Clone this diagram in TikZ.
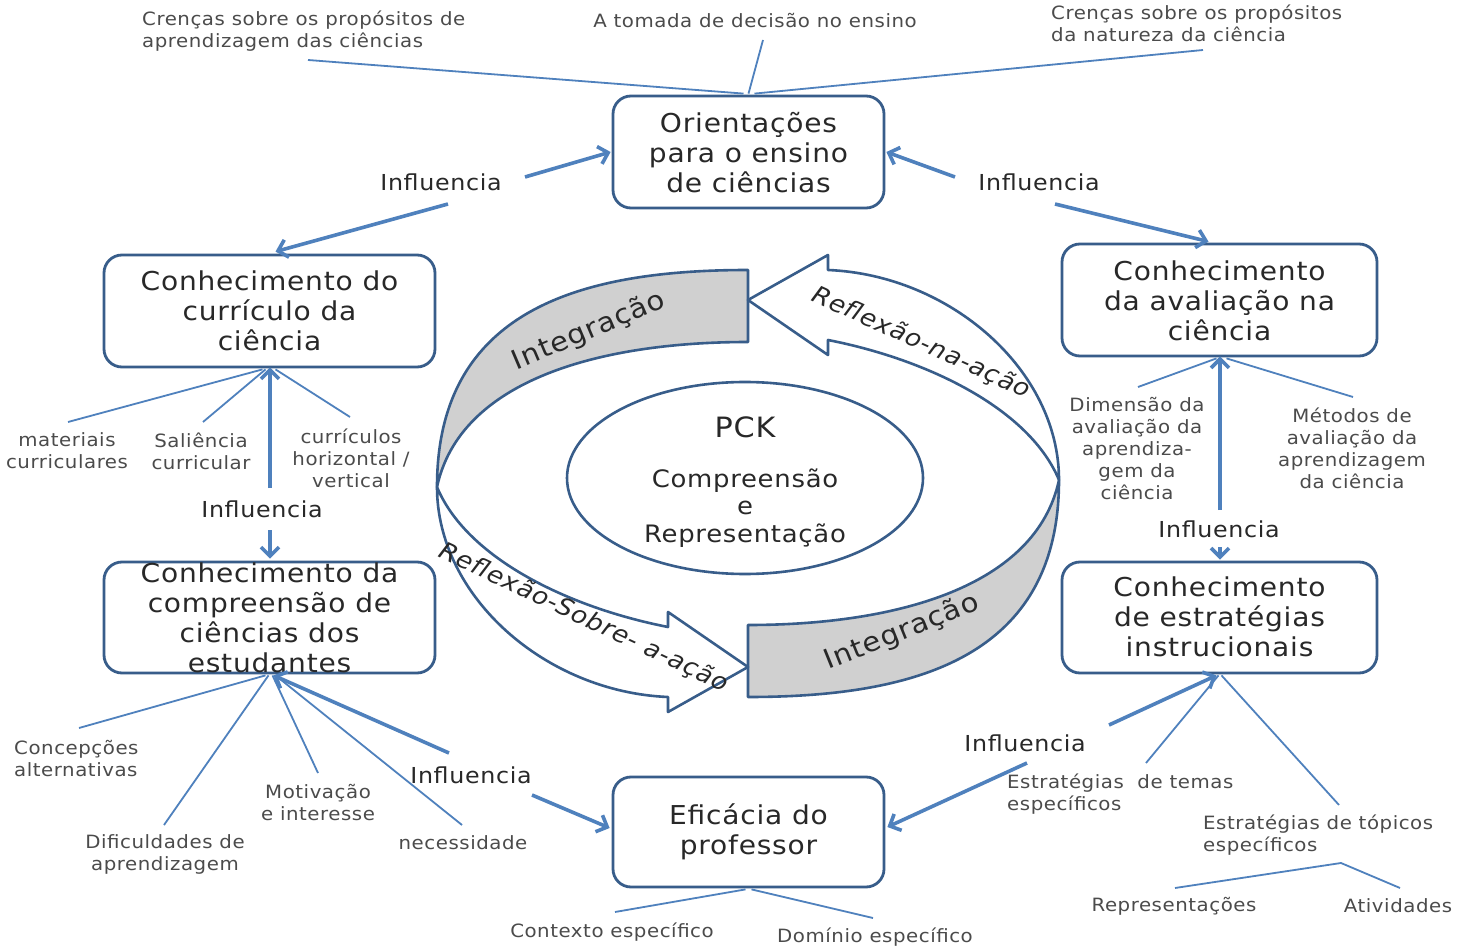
\documentclass[tikz,border=0pt]{standalone}
\usepackage{fontspec}
\setmainfont{DejaVu Sans}[FakeStretch=1.08,LetterSpace=3.0]
\usetikzlibrary{arrows.meta,calc,shapes.geometric}
\definecolor{boxblue}{RGB}{56,93,138}
\definecolor{linkblue}{RGB}{79,129,189}
\definecolor{ringgray}{RGB}{208,208,208}
\definecolor{txtdark}{RGB}{40,40,40}
\definecolor{txtgray}{RGB}{75,75,75}
\begin{document}
\begin{tikzpicture}[x=1pt,y=-1pt,
  box/.style={draw=boxblue,line width=2.8pt,rounded corners=18pt,fill=white,inner sep=0pt},
  boxtext/.style={text=txtdark,font=\fontsize{26}{30}\selectfont,align=center,inner sep=0pt},
  lbl/.style={text=txtgray,font=\fontsize{18.3}{22}\selectfont,align=center,inner sep=0pt},
  inf/.style={text=txtdark,font=\fontsize{22}{26}\selectfont,inner sep=0pt},
  thinlink/.style={draw=linkblue,line width=1.8pt},
  infarrow/.style={draw=linkblue,line width=3.6pt,-{Straight Barb[length=9pt,width=18pt]}},
  ringpart/.style={draw=boxblue,line width=2.6pt,line join=round},
  ringlabel/.style={text=txtdark,font=\fontsize{27}{30}\selectfont,inner sep=0pt},
  reflabel/.style={text=txtdark,font=\itshape\fontsize{24}{28}\selectfont,inner sep=0pt},
]
\fill[white] (0,0) rectangle (1462,949);
\useasboundingbox (0,0) rectangle (1462,949);

% ---------- central ring ----------
\path[ringpart,fill=ringgray] (437,487) .. controls (437,310) and (580,270) .. (748,270) -- (748,342) .. controls (600,342) and (460,380) .. (437,487) -- cycle;
\path[ringpart,fill=white] (1059,480) .. controls (1059,370) and (950,275) .. (828,270) -- (828,255) -- (748,300) -- (828,355) -- (828,340) .. controls (930,360) and (1030,410) .. (1059,480) -- cycle;
\begin{scope}[rotate around={180:(748,483.5)}]
\path[ringpart,fill=ringgray] (437,487) .. controls (437,310) and (580,270) .. (748,270) -- (748,342) .. controls (600,342) and (460,380) .. (437,487) -- cycle;
\path[ringpart,fill=white] (1059,480) .. controls (1059,370) and (950,275) .. (828,270) -- (828,255) -- (748,300) -- (828,355) -- (828,340) .. controls (930,360) and (1030,410) .. (1059,480) -- cycle;
\end{scope}
\node[ringlabel,rotate=23] (int1) at (589,331) {Integração};
\node[ringlabel,rotate=22] (int2) at (902,632) {Integração};
\node[reflabel,rotate=-24.5] (ref1) at (921,343) {Reflexão-na-ação};
\node[reflabel,rotate=-25.3] (ref2) at (584,618) {Reflexão-Sobre- a-ação};

% ---------- PCK ellipse ----------
\node[draw=boxblue,line width=2.6pt,ellipse,minimum width=356pt,minimum height=192pt,inner sep=0pt,fill=white] (pck) at (745,478) {};
\node[text=txtdark,font=\fontsize{28}{30}\selectfont,inner sep=0pt] (pcktitle) at (745,427) {PCK};
\node[text=txtdark,font=\fontsize{24}{27.5}\selectfont,align=center,inner sep=0pt] (pcktext) at (745,508) {Compreensão\\e\\Representação};

% ---------- boxes ----------
\node[box,minimum width=271pt,minimum height=112pt] (b1) at (748.5,152) {};
\node[box,minimum width=331pt,minimum height=112pt] (b2) at (269.5,311) {};
\node[box,minimum width=315pt,minimum height=112pt] (b3) at (1219.5,300) {};
\node[box,minimum width=331pt,minimum height=111pt] (b4) at (269.5,617.5) {};
\node[box,minimum width=315pt,minimum height=111pt] (b5) at (1219.5,617.5) {};
\node[box,minimum width=271pt,minimum height=110pt] (b6) at (748.5,832) {};
\node[boxtext] (t1) at (748.5,153) {Orientações\\para o ensino\\de ciências};
\node[boxtext] (t2) at (269.5,311) {Conhecimento do\\currículo da\\ciência};
\node[boxtext] (t3) at (1219.5,301) {Conhecimento\\da avaliação na\\ciência};
\node[boxtext] (t4) at (269.5,618) {Conhecimento da\\compreensão de\\ciências dos\\estudantes};
\node[boxtext] (t5) at (1219.5,617) {Conhecimento\\de estratégias\\instrucionais};
\node[boxtext] (t6) at (748.5,832) {Eficácia do\\professor};

% ---------- Influencia labels ----------
\node[inf] (i1) at (441,182) {Influencia};
\node[inf] (i2) at (1039,182) {Influencia};
\node[inf] (i3) at (262,509) {Influencia};
\node[inf] (i4) at (1219,529) {Influencia};
\node[inf] (i5) at (471,775) {Influencia};
\node[inf] (i6) at (1025,743) {Influencia};

\coordinate (i1a) at (525,177); \coordinate (i1b) at (448,204);
\coordinate (i2a) at (955,177); \coordinate (i2b) at (1055,204);
\coordinate (i3a) at (270,488); \coordinate (i3b) at (270,530);
\coordinate (i4a) at (1220,510); \coordinate (i4b) at (1220,547);
\coordinate (i5a) at (449,753); \coordinate (i5b) at (532,795);
\coordinate (i6a) at (1109,725); \coordinate (i6b) at (1027,763);

\draw[infarrow] (i1a) -- ($(b1.west)+(-1,0)$);
\draw[infarrow] (i1b) -- ($(b2.north)+(6,-2)$);
\draw[infarrow] (i2a) -- ($(b1.east)+(1,0)$);
\draw[infarrow] (i2b) -- ($(b3.north)+(-11,-1)$);
\draw[infarrow] (i3a) -- ($(b2.south)+(0.5,-1)$);
\draw[infarrow] (i3b) -- ($(b4.north)+(0.5,-2)$);
\draw[infarrow] (i4a) -- ($(b3.south)+(0.5,-1)$);
\draw[infarrow] (i4b) -- ($(b5.north)+(0.5,-1)$);
\draw[infarrow] (i5a) -- ($(b4.south)+(4,1)$);
\draw[infarrow] (i5b) -- ($(b6.west)+(-2,-4)$);
\draw[infarrow] (i6a) -- ($(b5.south)+(-3,1)$);
\draw[infarrow] (i6b) -- ($(b6.east)+(2,-5)$);

% ---------- small labels ----------
\node[lbl,align=left,anchor=west] (l1) at (142,31.5) {Crenças sobre os propósitos de\\aprendizagem das ciências};
\node[lbl] (l2) at (755,21) {A tomada de decisão no ensino};
\node[lbl,align=left,anchor=west] (l3) at (1051,23) {Crenças sobre os propósitos\\da natureza da ciência};
\node[lbl] (l4) at (67,451) {materiais\\curriculares};
\node[lbl] (l5) at (201,451) {Saliência\\curricular};
\node[lbl] (l6) at (351,458) {currículos\\horizontal /\\vertical};
\node[lbl] (l7) at (1137,448.5) {Dimensão da\\avaliação da\\aprendiza-\\gem da\\ciência};
\node[lbl] (l8) at (1352,448.5) {Métodos de\\avaliação da\\aprendizagem\\da ciência};
\node[lbl,align=left,anchor=west] (l9) at (14,759) {Concepções\\alternativas};
\node[lbl] (l10) at (165,854) {Dificuldades de\\aprendizagem};
\node[lbl] (l11) at (318,803) {Motivação\\e interesse};
\node[lbl] (l12) at (463,843) {necessidade};
\node[lbl] (l13) at (612,932) {Contexto específico};
\node[lbl] (l14) at (875,937) {Domínio específico};
\node[lbl,align=left,anchor=west] (l15) at (1007,794) {Estratégias~ de temas\\específicos};
\node[lbl,align=left,anchor=west] (l16) at (1203,835) {Estratégias de tópicos\\específicos};
\node[lbl] (l17) at (1174,906) {Representações};
\node[lbl] (l18) at (1398,906) {Atividades};

% ---------- thin links ----------
\coordinate (e1) at (308,60);
\coordinate (e2) at (763,40);
\coordinate (e3) at (1203,50);
\draw[thinlink] (e1) -- ($(b1.north)+(-5,-1)$);
\draw[thinlink] (e2) -- ($(b1.north)+(0,-1)$);
\draw[thinlink] (e3) -- ($(b1.north)+(6,-1)$);

\coordinate (e4) at (68,422);
\coordinate (e5) at (203,422);
\coordinate (e6) at (350,417);
\draw[thinlink] (e4) -- ($(b2.south)+(-7,1)$);
\draw[thinlink] (e5) -- ($(b2.south)+(-4,1)$);
\draw[thinlink] (e6) -- ($(b2.south)+(6,1)$);

\coordinate (e7) at (1138,387);
\coordinate (e8) at (1353,397);
\draw[thinlink] (e7) -- ($(b3.south)+(-3,1)$);
\draw[thinlink] (e8) -- ($(b3.south)+(7,1)$);

\coordinate (e9) at (79,728);
\coordinate (e10) at (164,825);
\coordinate (e11) at (318,773);
\coordinate (e12) at (462,825);
\draw[thinlink] (e9) -- ($(b4.south)+(-4,1)$);
\draw[thinlink] (e10) -- ($(b4.south)+(-1,1)$);
\draw[thinlink] (e11) -- ($(b4.south)+(3,1)$);
\draw[thinlink] (e12) -- ($(b4.south)+(6,1)$);

\coordinate (e13) at (1146,763);
\coordinate (e14) at (1339,805);
\draw[thinlink] (e13) -- ($(b5.south)+(-1,1)$);
\draw[thinlink] (e14) -- ($(b5.south)+(2,1)$);

\coordinate (e15) at (615,912);
\coordinate (e16) at (873,918);
\draw[thinlink] (e15) -- ($(b6.south)+(-3,1)$);
\draw[thinlink] (e16) -- ($(b6.south)+(3,1)$);

\coordinate (e17) at (1175,888);
\coordinate (e18) at (1341,863);
\coordinate (e19) at (1400,888);
\draw[thinlink] (e17) -- (e18) -- (e19);
\end{tikzpicture}
\end{document}
